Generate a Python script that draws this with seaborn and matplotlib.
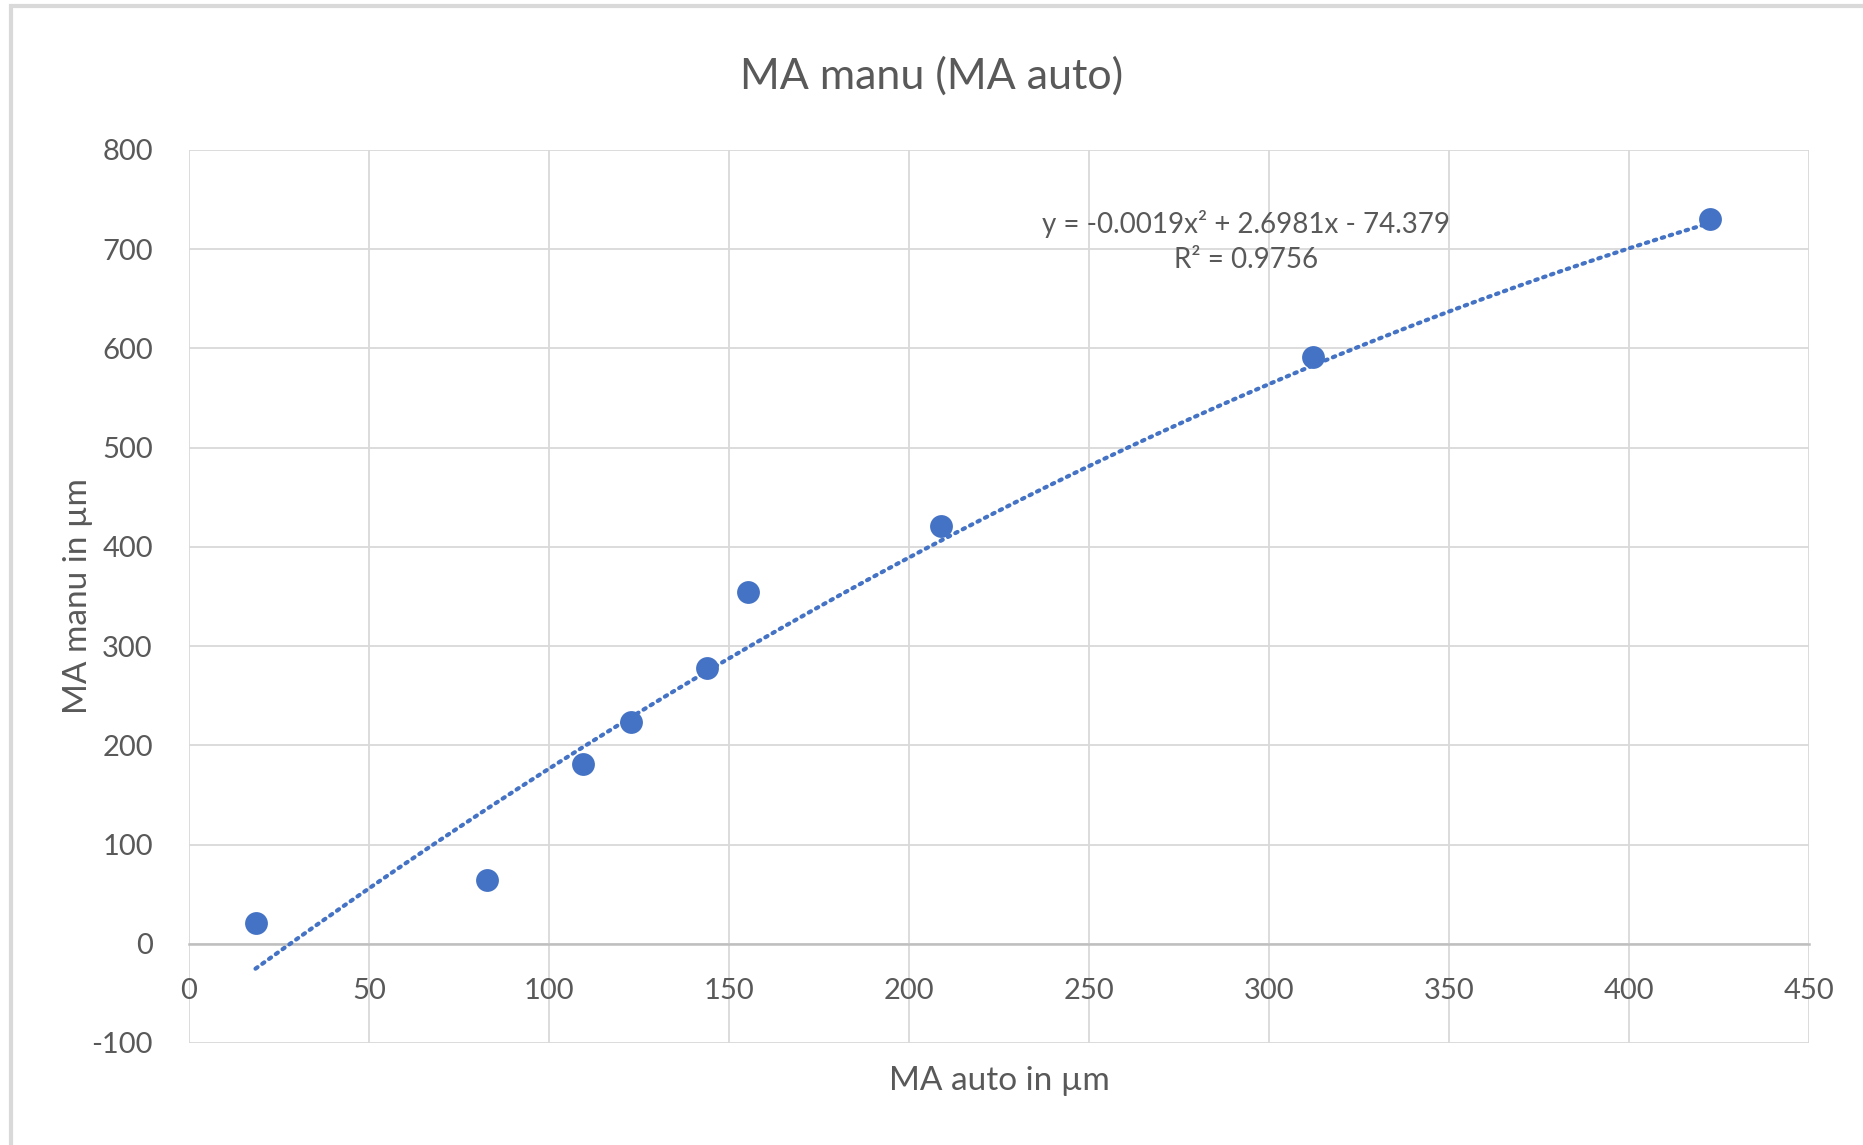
import numpy as np
import pandas as pd
import matplotlib
matplotlib.use("Agg")
import matplotlib.pyplot as plt
import seaborn as sns
from matplotlib.patches import Rectangle

# Werte
ma_auto = [18.5, 82.8, 109.5, 122.7, 143.8, 155.4, 208.8, 312.1, 422.6]
ma_manu = [21, 64, 181, 223, 278, 355, 421, 591, 730]

# Polynomielle Trendlinie (2. Ordnung), wie im Diagramm angegeben
trend_coef = [-0.0019, 2.6981, -74.379]
r_squared = 0.9756

x_ticks = [0, 50, 100, 150, 200, 250, 300, 350, 400, 450]
y_ticks = [-100, 0, 100, 200, 300, 400, 500, 600, 700, 800]

BLUE = "#4472C4"
GRID = "#D9D9D9"
TEXT = "#595959"


def main():
    sns.set_theme(style="white")
    plt.rcParams["font.family"] = ["Lato", "DejaVu Sans"]
    plt.rcParams["axes.unicode_minus"] = False

    df = pd.DataFrame({"auto": ma_auto, "manu": ma_manu})
    xs = np.linspace(min(ma_auto), max(ma_auto), 200)
    trend = pd.DataFrame({"auto": xs, "manu": np.polyval(trend_coef, xs)})

    fig = plt.figure(figsize=(18.63, 11.45), dpi=100)
    ax = fig.add_axes([0.1014, 0.0891, 0.8696, 0.7799])

    sns.lineplot(data=trend, x="auto", y="manu", ax=ax, color=BLUE, lw=3,
                 linestyle=(0, (0.6, 1.4)), dash_capstyle="round", zorder=3)
    sns.scatterplot(data=df, x="auto", y="manu", ax=ax, color=BLUE, s=270,
                    edgecolor=BLUE, linewidth=0, zorder=4)

    ax.set_xlim(0, 450)
    ax.set_ylim(-100, 800)
    ax.set_xticks(x_ticks)
    ax.set_yticks(y_ticks)
    ax.grid(True, color=GRID, lw=1.3)
    ax.set_axisbelow(True)

    for s in ["top", "right", "left"]:
        ax.spines[s].set_visible(False)
    ax.spines["bottom"].set_position(("data", 0))
    ax.spines["bottom"].set_color("#BFBFBF")
    ax.spines["bottom"].set_linewidth(1.8)
    ax.tick_params(axis="both", length=0, labelsize=21, colors=TEXT)
    ax.tick_params(axis="x", pad=25)
    ax.tick_params(axis="y", pad=26)

    ax.set_xlabel("MA auto in µm", fontsize=24, color=TEXT, labelpad=0)
    ax.xaxis.set_label_coords(0.5, -0.026)
    ax.set_ylabel("MA manu in µm", fontsize=24, color=TEXT)
    ax.yaxis.set_label_coords(-0.059, 0.5)

    fig.text(0.5, 0.934, "MA manu (MA auto)", ha="center", va="center",
             fontsize=31, color=TEXT)

    eq = "y = -0.0019x² + 2.6981x - 74.379\nR² = 0.9756"
    ax.text(293.6, 708, eq, ha="center", va="center", fontsize=20,
            color=TEXT, linespacing=1.45)

    # Rahmen des Diagrammbereichs
    fig.patches.append(Rectangle((11 / 1863, -0.05), 1.1, 1 - 6 / 1145 + 0.05,
                                 transform=fig.transFigure, fill=False,
                                 edgecolor=GRID, lw=3))

    fig.savefig("out.png", dpi=100)


if __name__ == "__main__":
    main()
